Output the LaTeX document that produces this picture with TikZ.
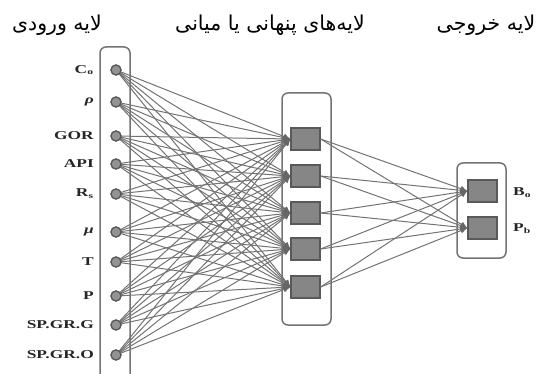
\documentclass[tikz,border=0pt]{standalone}
\usepackage{fontspec}
\setmainfont{Liberation Serif}
\newfontfamily\fa[Script=Arabic]{DejaVu Sans}
\TeXXeTstate=1
\usetikzlibrary{arrows.meta}
\newcommand\sx[1]{\scalebox{1.45}[1]{#1}}
\begin{document}
\begin{tikzpicture}[x=1pt,y=-1pt,
  inp/.style={circle, draw=black!65, fill=gray!85, inner sep=0pt, minimum size=10pt, line width=1.2pt},
  hid/.style={rectangle, draw=black!65, fill=gray!95, inner sep=0pt, minimum width=29pt, minimum height=22pt, line width=1.2pt},
  lab/.style={font=\bfseries\fontsize{12}{14}\selectfont, text=black!85, anchor=east, inner sep=0pt},
  olab/.style={font=\bfseries\fontsize{12}{14}\selectfont, text=black!85, anchor=west, inner sep=0pt},
  ttl/.style={font=\fa\fontsize{20.5}{24}\selectfont, inner sep=0pt},
  conn/.style={draw=black!55, line width=1pt, -{Latex[length=7pt,width=6pt,color=black!60]}},
  frame/.style={draw=black!55, line width=1.5pt, rounded corners=6pt}]
\useasboundingbox (0,0) rectangle (538,374);
% titles
\node[ttl] (t1) at (57,25) {\beginR لایه ورودی\endR};
\node[ttl] (t2) at (270,25) {\beginR لایه‌های پنهانی یا میانی\endR};
\node[ttl] (t3) at (486,25) {\beginR لایه خروجی\endR};
% frames
\draw[frame] (100,380) -- (100,47) -- (130,47) -- (130,380);
\draw[frame] (282,93) rectangle (331,325);
\draw[frame] (457,163) rectangle (506,258);
% input nodes
\foreach \i/\y in {1/70,2/102,3/136,4/164,5/194,6/232,7/262,8/296,9/325,10/355}
  \node[inp] (i\i) at (116,\y) {};
% hidden nodes
\foreach \j/\y in {1/139,2/176,3/213,4/249,5/287}
  \node[hid] (h\j) at (305.5,\y) {};
% output nodes
\node[hid] (o1) at (482.5,191) {};
\node[hid] (o2) at (482.5,228) {};
% connections
\foreach \i in {1,...,10}
  \foreach \j in {1,...,5}
    \draw[conn] (i\i.center) -- (h\j.west);
\foreach \j in {1,...,5}
  \foreach \k in {1,2}
    \draw[conn] (h\j.east) -- (o\k.west);
% redraw nodes on top
\foreach \i/\y in {1/70,2/102,3/136,4/164,5/194,6/232,7/262,8/296,9/325,10/355}
  \node[inp] at (116,\y) {};
% input labels
\node[lab] (l1) at (94,70) {\sx{C\textsubscript{o}}};
\node[lab] (l2) at (94,102) {\sx{\textit{ρ}}};
\node[lab] (l3) at (94,136) {\sx{GOR}};
\node[lab] (l4) at (94,164) {\sx{API}};
\node[lab] (l5) at (94,194) {\sx{R\textsubscript{s}}};
\node[lab] (l6) at (94,232) {\sx{\textit{μ}}};
\node[lab] (l7) at (94,262) {\sx{T}};
\node[lab] (l8) at (94,296) {\sx{P}};
\node[lab] (l9) at (94,325) {\sx{SP.GR.G}};
\node[lab] (l10) at (94,355) {\sx{SP.GR.O}};
% output labels
\node[olab] (b1) at (513,193) {\sx{B\textsubscript{o}}};
\node[olab] (b2) at (513,229) {\sx{P\textsubscript{b}}};
\end{tikzpicture}
\end{document}
